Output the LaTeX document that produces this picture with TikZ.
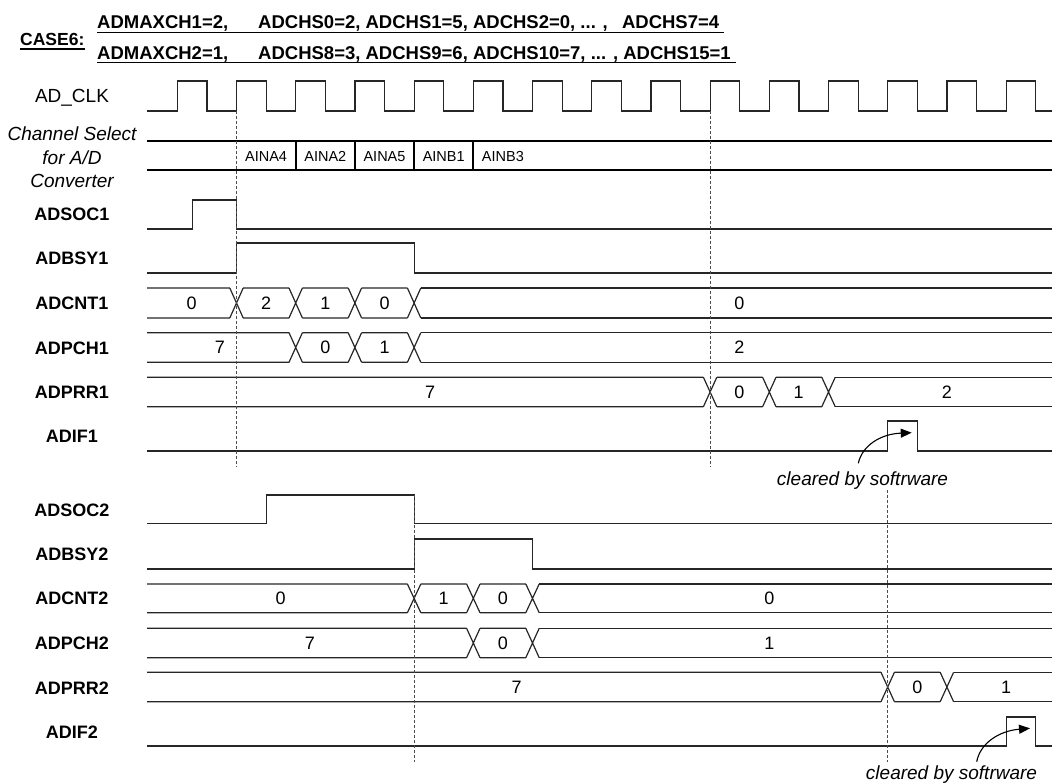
\documentclass[tikz,border=0pt]{standalone}
\usepackage{fontspec}
\setmainfont{Liberation Sans}
\usetikzlibrary{arrows.meta}
\newcommand{\tdfs}[1]{\fontsize{#1}{#1}\selectfont}
\newcommand{\tdbus}[3]{%
  \xdef\tdprev{147}%
  \foreach \tdt in {#3}{%
    \draw[sig] (\tdprev,#1) -- (\tdt-6.7,#1) (\tdprev,#2) -- (\tdt-6.7,#2)
      (\tdt-6.7,#1) -- (\tdt+6.7,#2) (\tdt-6.7,#2) -- (\tdt+6.7,#1);
    \pgfmathsetmacro\tdnx{\tdt+6.7}\xdef\tdprev{\tdnx}%
  }%
  \draw[sig] (\tdprev,#1) -- (1052,#1) (\tdprev,#2) -- (1052,#2);%
}
\begin{document}
\begin{tikzpicture}[x=1pt,y=-1pt,
  sig/.style={line width=1.2pt,draw=black!85},
  thk/.style={line width=2.4pt,draw=black},
  dsh/.style={dash pattern=on 3pt off 2pt,line width=1pt,draw=black!70},
  arr/.style={line width=1.1pt,-{Triangle[length=11pt,width=9pt]}},
  lbl/.style={font=\bfseries\tdfs{18},inner sep=0pt,text height=13pt,text depth=0pt},
  rlbl/.style={font=\tdfs{19},inner sep=0pt,text height=13.6pt,text depth=0pt},
  ilbl/.style={font=\itshape\tdfs{19},inner sep=0pt,text height=13.6pt,text depth=0pt},
  val/.style={font=\tdfs{18},inner sep=0pt,text height=13pt,text depth=0pt},
  chn/.style={font=\tdfs{14.5},inner sep=0pt,text height=10.4pt,text depth=0pt},
  hdr/.style={font=\bfseries\tdfs{18.5},inner sep=0pt,anchor=base west},
  note/.style={font=\itshape\tdfs{19},inner sep=0pt,anchor=base},
  uline/.style={line width=1.3pt,draw=black}]
\useasboundingbox (0,0) rectangle (1057,783);

% header
\node[hdr,font=\bfseries\tdfs{17.5}] (h0) at (20,45.7) {CASE6:};
\node[hdr] (h1a) at (97,29) {ADMAXCH1=2,};
\node[hdr] (h1b) at (258,29) {ADCHS0=2, ADCHS1=5, ADCHS2=0, ... ,\hspace{9pt} ADCHS7=4};
\node[hdr] (h2a) at (97,59.3) {ADMAXCH2=1,};
\node[hdr] (h2b) at (258,59.3) {ADCHS8=3, ADCHS9=6, ADCHS10=7, ... , ADCHS15=1};
\draw[uline] ([yshift=-3.4pt]h0.base west) -- ([yshift=-3.4pt]h0.base east);
\draw[uline] ([yshift=-3.4pt]h1a.base west) -- ([yshift=-3.4pt,xshift=5pt]h1b.base east);
\draw[uline] ([yshift=-3.4pt]h2a.base west) -- ([yshift=-3.4pt,xshift=5pt]h2b.base east);

% labels
\node[rlbl] (lclk) at (72,96) {AD\_CLK};
\node[ilbl] (lcs1) at (72,134) {Channel Select};
\node[ilbl] (lcs2) at (72,158) {for A/D};
\node[ilbl] (lcs3) at (72,181) {Converter};
\node[lbl] (lsoc1) at (72,214) {ADSOC1};
\node[lbl] (lbsy1) at (72,258) {ADBSY1};
\node[lbl] (lcnt1) at (72,303) {ADCNT1};
\node[lbl] (lpch1) at (72,348) {ADPCH1};
\node[lbl] (lprr1) at (72,392) {ADPRR1};
\node[lbl] (lif1) at (72,436) {ADIF1};
\node[lbl] (lsoc2) at (72,510) {ADSOC2};
\node[lbl] (lbsy2) at (72,554) {ADBSY2};
\node[lbl] (lcnt2) at (72,598) {ADCNT2};
\node[lbl] (lpch2) at (72,643) {ADPCH2};
\node[lbl] (lprr2) at (72,688) {ADPRR2};
\node[lbl] (lif2) at (72,731.5) {ADIF2};

% clock
\draw[sig] (147,111) \foreach \k in {0,...,14}{ -- ({177.3+59.2*\k},111) -- ({177.3+59.2*\k},81) -- ({206.9+59.2*\k},81) -- ({206.9+59.2*\k},111) } -- (1052,111);

% channel select
\draw[thk] (147,141) -- (1052,141) (147,170) -- (1052,170);
\foreach \x in {295.7,354.9,414.1,473.3} \draw[line width=2.2pt] (\x,141) -- (\x,170);
\node[chn] (c1) at (266.1,156) {AINA4};
\node[chn] (c2) at (325.3,156) {AINA2};
\node[chn] (c3) at (384.5,156) {AINA5};
\node[chn] (c4) at (443.7,156) {AINB1};
\node[chn] (c5) at (502.9,156) {AINB3};

% block 1
\draw[sig] (147,229) -- (192.1,229) -- (192.1,200) -- (236.5,200) -- (236.5,229) -- (1052,229);
\draw[sig] (147,273) -- (236.5,273) -- (236.5,243) -- (414.1,243) -- (414.1,273) -- (1052,273);
\tdbus{288}{318}{236.5,295.7,354.9,414.1}
\node[val] (v1a) at (191.7,303) {0};
\node[val] (v1b) at (266.1,303) {2};
\node[val] (v1c) at (325.3,303) {1};
\node[val] (v1d) at (384.5,303) {0};
\node[val] (v1e) at (739.3,303) {0};
\tdbus{332.7}{362.3}{295.7,354.9,414.1}
\node[val] (v2a) at (220,347.5) {7};
\node[val] (v2b) at (325.3,347.5) {0};
\node[val] (v2c) at (384.5,347.5) {1};
\node[val] (v2d) at (739.3,347.5) {2};
\tdbus{377.3}{406.7}{710.1,769.3,828.5}
\node[val] (v3a) at (430,392) {7};
\node[val] (v3b) at (739.3,392) {0};
\node[val] (v3c) at (798.5,392) {1};
\node[val] (v3d) at (946.9,392) {2};
\draw[sig] (147,451) -- (887.7,451) -- (887.7,421) -- (917.3,421) -- (917.3,451) -- (1052,451);

% block 2
\draw[sig] (147,523.3) -- (266.1,523.3) -- (266.1,495) -- (414.1,495) -- (414.1,523.3) -- (1052,523.3);
\draw[sig] (147,569) -- (414.1,569) -- (414.1,539) -- (532.5,539) -- (532.5,569) -- (1052,569);
\tdbus{584}{612.7}{414.1,473.3,532.5}
\node[val] (v4a) at (280.7,598.3) {0};
\node[val] (v4b) at (443.7,598.3) {1};
\node[val] (v4c) at (502.9,598.3) {0};
\node[val] (v4d) at (769.3,598.3) {0};
\tdbus{628.3}{657.7}{473.3,532.5}
\node[val] (v5a) at (310,643) {7};
\node[val] (v5b) at (502.9,643) {0};
\node[val] (v5c) at (769.3,643) {1};
\tdbus{672.3}{701.7}{887.7,946.9}
\node[val] (v6a) at (516.7,687) {7};
\node[val] (v6b) at (917.3,687) {0};
\node[val] (v6c) at (1006.1,687) {1};
\draw[sig] (147,746) -- (1006.1,746) -- (1006.1,717) -- (1035.7,717) -- (1035.7,746) -- (1052,746);

% dashed markers
\draw[dsh] (236.5,111) -- (236.5,467);
\draw[dsh] (710.1,111) -- (710.1,467);
\draw[dsh] (414.1,495) -- (414.1,762);
\draw[dsh] (887.7,490) -- (887.7,762);

% notes and arrows
\node[note] (n1) at (862.5,485) {cleared by softrware};
\node[note] (n2) at (951.5,779) {cleared by softrware};
\coordinate (a1s) at (858.3,463.3);
\coordinate (a1e) at (911.7,432.7);
\coordinate (a2s) at (976.7,761.7);
\coordinate (a2e) at (1030,728.3);
\draw[arr] (a1s) .. controls (862,446) and (880,434) .. (a1e);
\draw[arr] (a2s) .. controls (980,744) and (998,731) .. (a2e);
\end{tikzpicture}
\end{document}
